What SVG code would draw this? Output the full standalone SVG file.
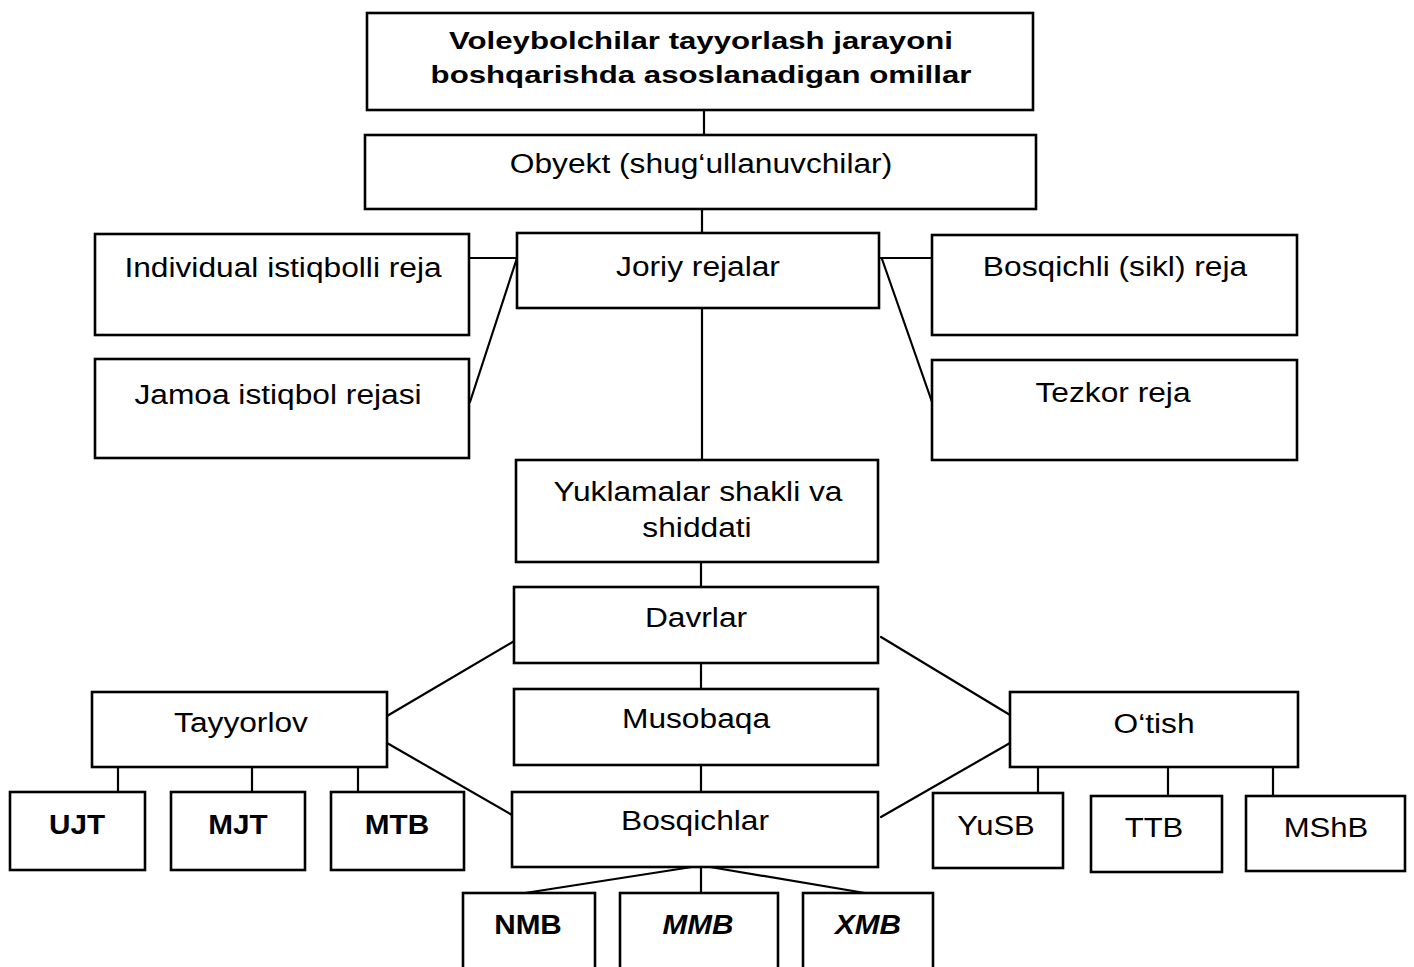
<svg xmlns="http://www.w3.org/2000/svg" width="1414" height="967" viewBox="0 0 1414 967">
<style>
.box{fill:#fff;stroke:#000;stroke-width:2.6}
.ln{fill:none;stroke:#000;stroke-width:2.2;stroke-linecap:round}
.t{font-family:"Liberation Sans",Arial,sans-serif;font-size:27px;fill:#000;text-anchor:middle}
.tb{font-family:"Liberation Sans",Arial,sans-serif;font-size:24px;font-weight:bold;fill:#000;text-anchor:middle}
.b{font-weight:bold}
</style>
<rect width="1414" height="967" fill="#fff"/>
<g id="connectors">
<line class="ln" x1="704" y1="110" x2="704" y2="135"/>
<line class="ln" x1="702" y1="209" x2="702" y2="233"/>
<line class="ln" x1="469" y1="258" x2="517" y2="258"/>
<line class="ln" x1="517" y1="258" x2="470" y2="402"/>
<line class="ln" x1="879" y1="258" x2="932" y2="258"/>
<line class="ln" x1="882" y1="259" x2="932" y2="402"/>
<line class="ln" x1="702" y1="308" x2="702" y2="460"/>
<line class="ln" x1="701" y1="562" x2="701" y2="587"/>
<line class="ln" x1="701" y1="663" x2="701" y2="689"/>
<line class="ln" x1="701" y1="765" x2="701" y2="792"/>
<line class="ln" x1="387" y1="716" x2="516" y2="640"/>
<line class="ln" x1="387" y1="743" x2="512" y2="815"/>
<line class="ln" x1="881" y1="637" x2="1010" y2="715"/>
<line class="ln" x1="881" y1="817" x2="1010" y2="743"/>
<line class="ln" x1="118" y1="767" x2="118" y2="792"/>
<line class="ln" x1="252" y1="767" x2="252" y2="792"/>
<line class="ln" x1="358" y1="767" x2="358" y2="792"/>
<line class="ln" x1="1038" y1="767" x2="1038" y2="793"/>
<line class="ln" x1="1168" y1="767" x2="1168" y2="796"/>
<line class="ln" x1="1273" y1="767" x2="1273" y2="796"/>
<line class="ln" x1="692" y1="867" x2="525" y2="893"/>
<line class="ln" x1="701" y1="867" x2="701" y2="893"/>
<line class="ln" x1="710" y1="867" x2="865" y2="893"/>
</g>
<g id="n-title"><rect class="box" x="367" y="13" width="666" height="97"/>
<text class="tb" transform="translate(701,48.5) scale(1.3,1)">Voleybolchilar tayyorlash jarayoni</text>
<text class="tb" transform="translate(701,83) scale(1.3,1)">boshqarishda asoslanadigan omillar</text></g>
<g id="n-obyekt"><rect class="box" x="365" y="135" width="671" height="74"/>
<text class="t" transform="translate(701,173) scale(1.175,1)">Obyekt (shug‘ullanuvchilar)</text></g>
<g id="n-joriy"><rect class="box" x="517" y="233" width="362" height="75"/>
<text class="t" transform="translate(698,276) scale(1.175,1)">Joriy rejalar</text></g>
<g id="n-individual"><rect class="box" x="95" y="234" width="374" height="101"/>
<text class="t" transform="translate(283,277) scale(1.175,1)">Individual istiqbolli reja</text></g>
<g id="n-jamoa"><rect class="box" x="95" y="359" width="374" height="99"/>
<text class="t" transform="translate(278,404) scale(1.175,1)">Jamoa istiqbol rejasi</text></g>
<g id="n-bosqichli"><rect class="box" x="932" y="235" width="365" height="100"/>
<text class="t" transform="translate(1115,276) scale(1.175,1)">Bosqichli (sikl) reja</text></g>
<g id="n-tezkor"><rect class="box" x="932" y="360" width="365" height="100"/>
<text class="t" transform="translate(1113,402) scale(1.175,1)">Tezkor reja</text></g>
<g id="n-yuklamalar"><rect class="box" x="516" y="460" width="362" height="102"/>
<text class="t" transform="translate(698,501) scale(1.175,1)">Yuklamalar shakli va</text>
<text class="t" transform="translate(697,537) scale(1.175,1)">shiddati</text></g>
<g id="n-davrlar"><rect class="box" x="514" y="587" width="364" height="76"/>
<text class="t" transform="translate(696,627) scale(1.175,1)">Davrlar</text></g>
<g id="n-musobaqa"><rect class="box" x="514" y="689" width="364" height="76"/>
<text class="t" transform="translate(696,728) scale(1.175,1)">Musobaqa</text></g>
<g id="n-bosqichlar"><rect class="box" x="512" y="792" width="366" height="75"/>
<text class="t" transform="translate(695,830) scale(1.175,1)">Bosqichlar</text></g>
<g id="n-tayyorlov"><rect class="box" x="92" y="692" width="295" height="75"/>
<text class="t" transform="translate(241,732) scale(1.175,1)">Tayyorlov</text></g>
<g id="n-otish"><rect class="box" x="1010" y="692" width="288" height="75"/>
<text class="t" transform="translate(1154,733) scale(1.175,1)">O‘tish</text></g>
<g id="n-ujt"><rect class="box" x="10" y="792" width="135" height="78"/>
<text class="t b" transform="translate(77,834) scale(1.1,1)">UJT</text></g>
<g id="n-mjt"><rect class="box" x="171" y="792" width="134" height="78"/>
<text class="t b" transform="translate(238,834) scale(1.1,1)">MJT</text></g>
<g id="n-mtb"><rect class="box" x="331" y="792" width="133" height="78"/>
<text class="t b" transform="translate(397,834) scale(1.1,1)">MTB</text></g>
<g id="n-yusb"><rect class="box" x="933" y="793" width="130" height="75"/>
<text class="t" transform="translate(996,835) scale(1.15,1)">YuSB</text></g>
<g id="n-ttb"><rect class="box" x="1091" y="796" width="131" height="76"/>
<text class="t" transform="translate(1154,837) scale(1.15,1)">TTB</text></g>
<g id="n-mshb"><rect class="box" x="1246" y="796" width="159" height="75"/>
<text class="t" transform="translate(1326,837) scale(1.15,1)">MShB</text></g>
<g id="n-nmb"><rect class="box" x="463" y="893" width="132" height="90"/>
<text class="t b" transform="translate(528,934) scale(1.1,1)">NMB</text></g>
<g id="n-mmb"><rect class="box" x="620" y="893" width="158" height="90"/>
<text class="t b" font-style="italic" transform="translate(698,934) scale(1.1,1)">MMB</text></g>
<g id="n-xmb"><rect class="box" x="803" y="893" width="130" height="90"/>
<text class="t b" font-style="italic" transform="translate(868,934) scale(1.1,1)">XMB</text></g>
</svg>
